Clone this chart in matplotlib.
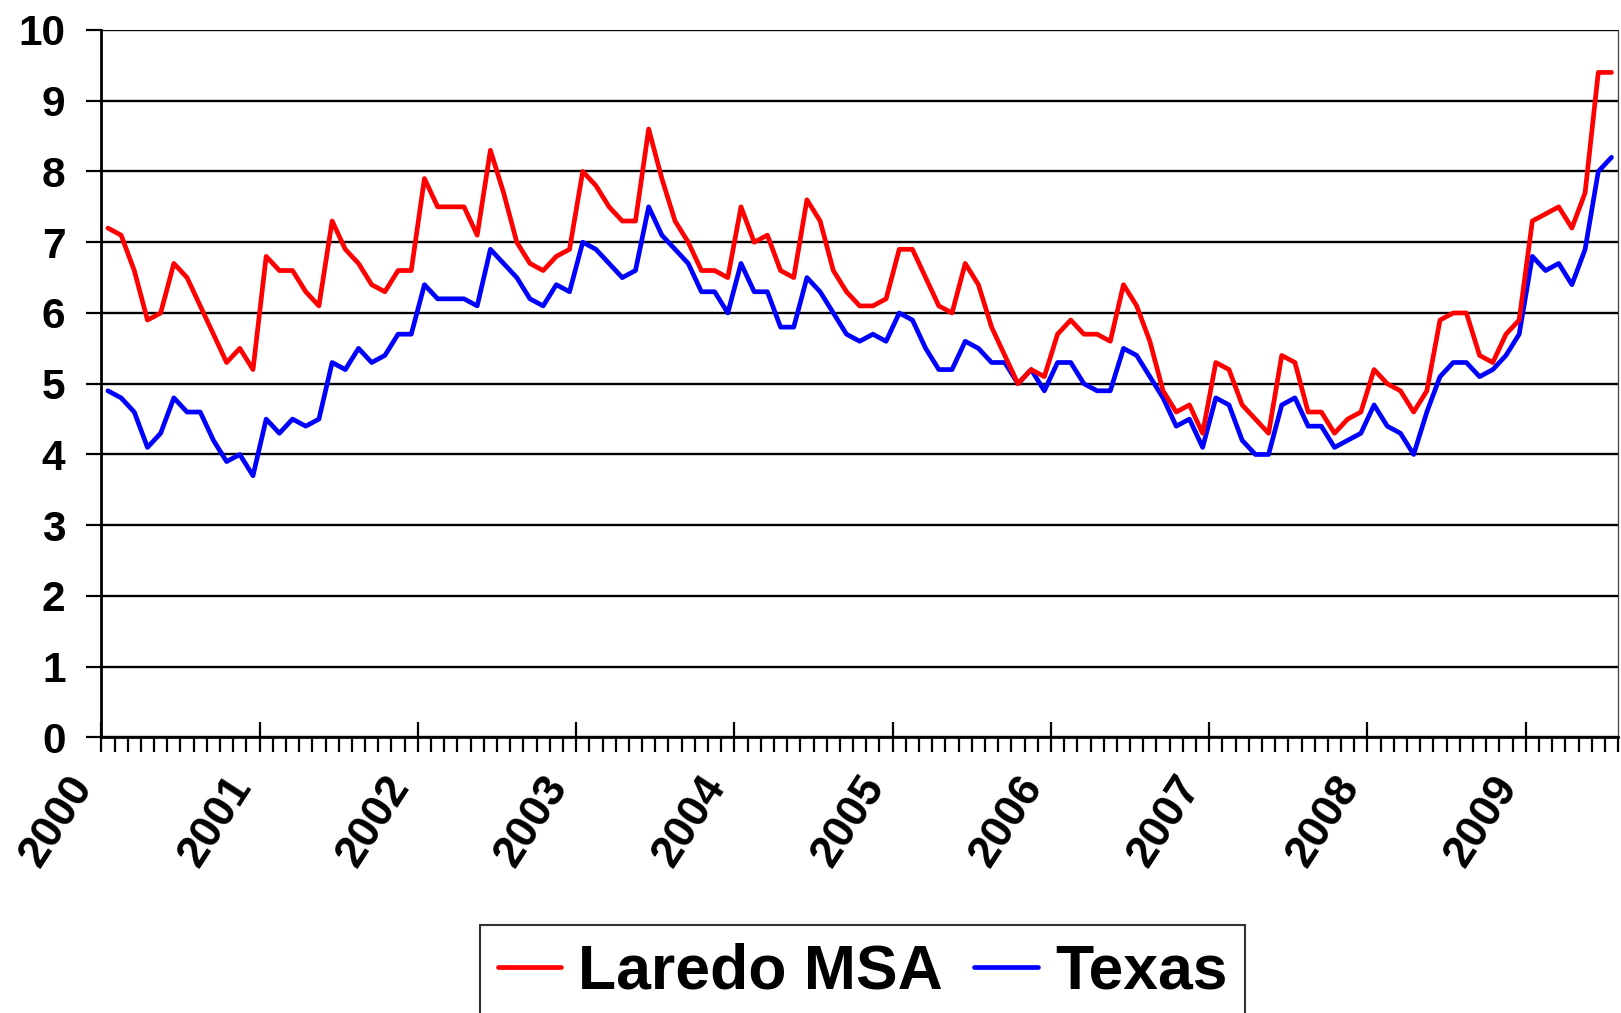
import matplotlib

matplotlib.use("Agg")
import matplotlib.pyplot as plt  # noqa: E402
from matplotlib import font_manager  # noqa: E402
from matplotlib.ticker import FixedLocator  # noqa: E402

# monthly unemployment rate (%), Jan 2000 .. Jul 2009
laredo = [
    7.2, 7.1, 6.6, 5.9, 6.0, 6.7, 6.5, 6.1, 5.7, 5.3, 5.5, 5.2,  # 2000
    6.8, 6.6, 6.6, 6.3, 6.1, 7.3, 6.9, 6.7, 6.4, 6.3, 6.6, 6.6,  # 2001
    7.9, 7.5, 7.5, 7.5, 7.1, 8.3, 7.7, 7.0, 6.7, 6.6, 6.8, 6.9,  # 2002
    8.0, 7.8, 7.5, 7.3, 7.3, 8.6, 7.9, 7.3, 7.0, 6.6, 6.6, 6.5,  # 2003
    7.5, 7.0, 7.1, 6.6, 6.5, 7.6, 7.3, 6.6, 6.3, 6.1, 6.1, 6.2,  # 2004
    6.9, 6.9, 6.5, 6.1, 6.0, 6.7, 6.4, 5.8, 5.4, 5.0, 5.2, 5.1,  # 2005
    5.7, 5.9, 5.7, 5.7, 5.6, 6.4, 6.1, 5.6, 4.9, 4.6, 4.7, 4.3,  # 2006
    5.3, 5.2, 4.7, 4.5, 4.3, 5.4, 5.3, 4.6, 4.6, 4.3, 4.5, 4.6,  # 2007
    5.2, 5.0, 4.9, 4.6, 4.9, 5.9, 6.0, 6.0, 5.4, 5.3, 5.7, 5.9,  # 2008
    7.3, 7.4, 7.5, 7.2, 7.7, 9.4, 9.4,                           # 2009
]
texas = [
    4.9, 4.8, 4.6, 4.1, 4.3, 4.8, 4.6, 4.6, 4.2, 3.9, 4.0, 3.7,
    4.5, 4.3, 4.5, 4.4, 4.5, 5.3, 5.2, 5.5, 5.3, 5.4, 5.7, 5.7,
    6.4, 6.2, 6.2, 6.2, 6.1, 6.9, 6.7, 6.5, 6.2, 6.1, 6.4, 6.3,
    7.0, 6.9, 6.7, 6.5, 6.6, 7.5, 7.1, 6.9, 6.7, 6.3, 6.3, 6.0,
    6.7, 6.3, 6.3, 5.8, 5.8, 6.5, 6.3, 6.0, 5.7, 5.6, 5.7, 5.6,
    6.0, 5.9, 5.5, 5.2, 5.2, 5.6, 5.5, 5.3, 5.3, 5.0, 5.2, 4.9,
    5.3, 5.3, 5.0, 4.9, 4.9, 5.5, 5.4, 5.1, 4.8, 4.4, 4.5, 4.1,
    4.8, 4.7, 4.2, 4.0, 4.0, 4.7, 4.8, 4.4, 4.4, 4.1, 4.2, 4.3,
    4.7, 4.4, 4.3, 4.0, 4.6, 5.1, 5.3, 5.3, 5.1, 5.2, 5.4, 5.7,
    6.8, 6.6, 6.7, 6.4, 6.9, 8.0, 8.2,
]
years = [str(y) for y in range(2000, 2010)]
series_names = ["Laredo MSA", "Texas"]

installed = {f.name for f in font_manager.fontManager.ttflist}
TICK_FONT = "Liberation Sans" if "Liberation Sans" in installed else "DejaVu Sans"
if "Liberation Sans Narrow" in installed:
    LEG_FONT, LEG_SIZE = "Liberation Sans Narrow", 50
else:
    LEG_FONT, LEG_SIZE = TICK_FONT, 45

fig = plt.figure(figsize=(16.21, 10.13), dpi=100)
ax = fig.add_axes([0.0625, 0.2720, 0.9357, 0.6984])

n = len(laredo)
months = list(range(n))
ax.plot(months, laredo, c="#ff0000", lw=3.4, solid_joinstyle="round",
        solid_capstyle="round", label=series_names[0], zorder=4)
ax.plot(months, texas, c="#0000ff", lw=3.4, solid_joinstyle="round",
        solid_capstyle="round", label=series_names[1], zorder=3)

ax.set_xlim(-0.5, n - 0.5)
ax.set_ylim(0, 10)

# y axis
ax.set_yticks(range(0, 11))
ax.yaxis.grid(True, color="black", lw=1.7)
ax.tick_params(axis="y", direction="out", length=10.8, width=1.6, pad=15,
               labelsize=30.5)

# x axis: category boundaries, year labels every 12 months
ax.xaxis.set_major_locator(FixedLocator([-0.5 + 12 * k for k in range(len(years))]))
ax.xaxis.set_minor_locator(FixedLocator([-0.5 + m for m in range(n + 1)]))
ax.set_xticklabels(years, rotation=57, ha="right", va="top")
ax.tick_params(axis="x", which="major", direction="inout", length=21.6,
               width=1.6, pad=12, labelsize=32)
ax.tick_params(axis="x", which="minor", direction="out", length=10.5,
               width=1.6)

for lab in ax.get_xticklabels() + ax.get_yticklabels():
    lab.set_fontfamily(TICK_FONT)
    lab.set_fontweight("bold")

ax.spines["top"].set_visible(False)
ax.spines["left"].set_linewidth(2.0)
ax.spines["bottom"].set_linewidth(2.0)
ax.spines["right"].set_linewidth(0.9)
ax.spines["right"].set_color("0.25")
ax.set_axisbelow(True)

leg = fig.legend(
    loc="upper left",
    bbox_to_anchor=(480 / 1621, 1 - 925 / 1013),
    bbox_transform=fig.transFigure,
    ncol=2,
    frameon=True,
    fancybox=False,
    edgecolor="black",
    handlelength=1.02,
    handletextpad=0.27,
    columnspacing=0.5,
    borderpad=0.28,
    borderaxespad=0,
    prop={"family": LEG_FONT, "weight": "bold", "size": LEG_SIZE},
)
leg.get_frame().set_linewidth(1.5)
for line in leg.get_lines():
    line.set_linewidth(3.4)

fig.savefig("out.png", dpi=100)
plt.close(fig)
